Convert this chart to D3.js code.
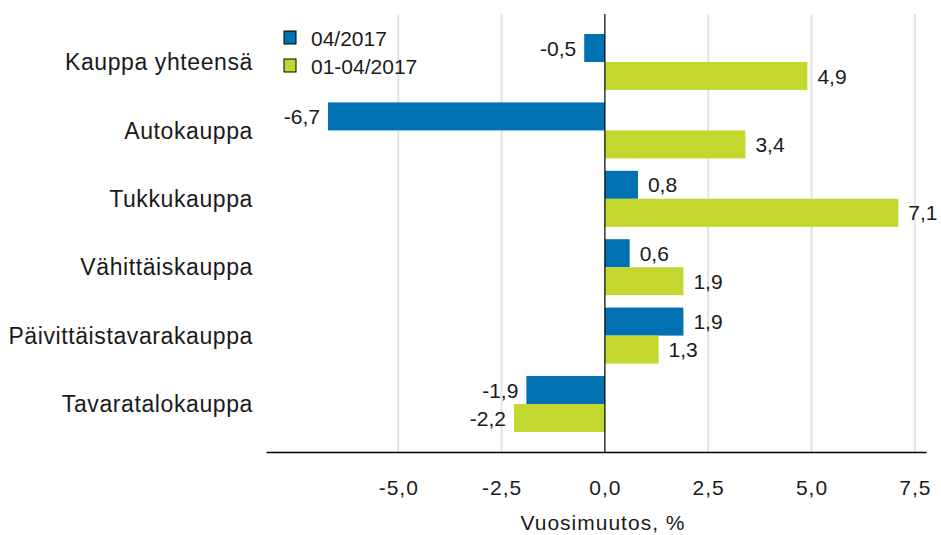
<!DOCTYPE html>
<html>
<head>
<meta charset="utf-8">
<script src="https://cdn.jsdelivr.net/npm/d3@7"></script>
<style>
  body { margin: 0; background: #fff; }
  svg text { font-family: "Liberation Sans", Arial, sans-serif; fill: #1a1a1a; }
</style>
</head>
<body>
<div id="chart"></div>
<script>
var categories = ["Kauppa yhteensä", "Autokauppa", "Tukkukauppa", "Vähittäiskauppa", "Päivittäistavarakauppa", "Tavaratalokauppa"];
var seriesNames = ["04/2017", "01-04/2017"];
var month = [-0.5, -6.7, 0.8, 0.6, 1.9, -1.9];
var ytd = [4.9, 3.4, 7.1, 1.9, 1.3, -2.2];
var xTicks = [-5, -2.5, 0, 2.5, 5, 7.5];
var xTitle = "Vuosimuutos, %";

var colors = ["#0071b1", "#c3d72f"];
var width = 941, height = 535;
var values = [month, ytd];

var fmt = function (v) { return d3.format(".1f")(v).replace(".", ",").replace("−", "-"); };

var svg = d3.select("#chart").append("svg")
    .attr("width", width)
    .attr("height", height);

var x = d3.scaleLinear()
    .domain([-8.2, 7.77])
    .range([266, 926]);

var y = d3.scaleBand()
    .domain(categories)
    .range([14, 452])
    .paddingInner(0.181)
    .paddingOuter(0.2925);

var ys = d3.scaleBand()
    .domain(seriesNames)
    .range([0, y.bandwidth()]);

// grid
svg.append("g").selectAll("line")
    .data(xTicks.filter(function (d) { return d !== 0; }))
    .enter().append("line")
    .attr("x1", function (d) { return x(d); })
    .attr("x2", function (d) { return x(d); })
    .attr("y1", 14)
    .attr("y2", 452)
    .attr("stroke", "#e3e3e3")
    .attr("stroke-width", 2);

// bars
seriesNames.forEach(function (s, i) {
    svg.append("g").selectAll("rect")
        .data(values[i])
        .enter().append("rect")
        .attr("x", function (d) { return x(Math.min(0, d)); })
        .attr("y", function (d, j) { return y(categories[j]) + ys(s); })
        .attr("width", function (d) { return Math.abs(x(d) - x(0)); })
        .attr("height", ys.bandwidth())
        .attr("fill", colors[i]);

    svg.append("g").selectAll("text")
        .data(values[i])
        .enter().append("text")
        .attr("x", function (d) { return d < 0 ? x(d) - 8 : x(d) + 10; })
        .attr("y", function (d, j) { return y(categories[j]) + ys(s) + ys.bandwidth() / 2; })
        .attr("dy", "0.36em")
        .attr("text-anchor", function (d) { return d < 0 ? "end" : "start"; })
        .style("font-size", "21px")
        .text(fmt);
});

// zero line
svg.append("line")
    .attr("x1", x(0)).attr("x2", x(0))
    .attr("y1", 14).attr("y2", 452)
    .attr("stroke", "#000")
    .attr("stroke-width", 1.2);

// x axis
var xAxis = svg.append("g")
    .attr("transform", "translate(0,452)")
    .call(d3.axisBottom(x).tickValues(xTicks).tickSize(0).tickPadding(28).tickFormat(fmt));
xAxis.select(".domain").attr("stroke", "#000").attr("stroke-width", 1.5);
xAxis.selectAll("text")
    .style("font-size", "21px")
    .style("letter-spacing", "1px")
    .attr("fill", "#1a1a1a");

svg.append("text")
    .attr("x", 603)
    .attr("y", 530)
    .attr("text-anchor", "middle")
    .style("font-size", "21px")
    .style("letter-spacing", "1px")
    .text(xTitle);

// category labels
svg.append("g").selectAll("text")
    .data(categories)
    .enter().append("text")
    .attr("x", 253)
    .attr("y", function (d) { return y(d) + y.bandwidth() / 2; })
    .attr("dy", "0.36em")
    .attr("text-anchor", "end")
    .style("font-size", "23px")
    .style("letter-spacing", "0.6px")
    .text(function (d) { return d; });

// legend
var legend = svg.append("g").selectAll("g")
    .data(seriesNames)
    .enter().append("g")
    .attr("transform", function (d, i) { return "translate(284," + (31 + i * 28) + ")"; });
legend.append("rect")
    .attr("width", 12)
    .attr("height", 13)
    .attr("fill", function (d, i) { return colors[i]; })
    .attr("stroke", "#000")
    .attr("stroke-width", 1);
legend.append("text")
    .attr("x", 27)
    .attr("y", 7)
    .attr("dy", "0.36em")
    .style("font-size", "21px")
    .text(function (d) { return d; });
</script>
</body>
</html>
